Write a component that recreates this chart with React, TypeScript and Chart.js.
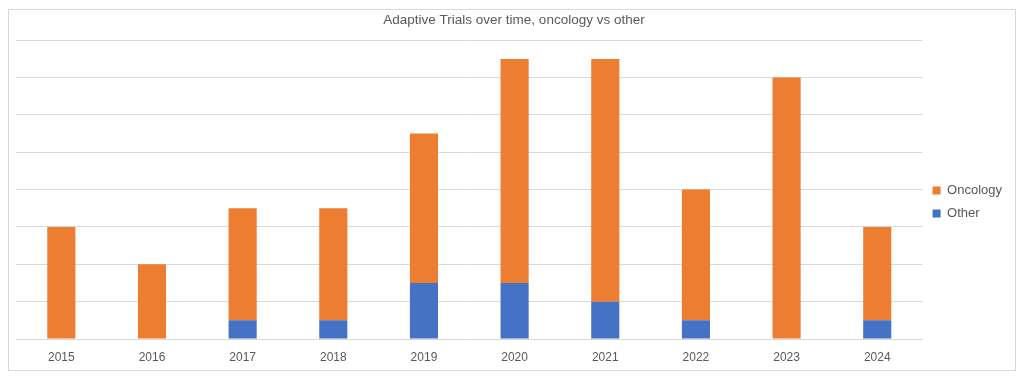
import React, { useEffect, useRef } from "react";
import { Chart, registerables } from "chart.js";

Chart.register(...registerables);

const years = ["2015", "2016", "2017", "2018", "2019", "2020", "2021", "2022", "2023", "2024"];
const otherValues = [0, 0, 1, 1, 3, 3, 2, 1, 0, 1];
const oncologyValues = [6, 4, 6, 6, 8, 12, 13, 7, 14, 5];
const titleText = "Adaptive Trials over time, oncology vs other";

const FONT = "Liberation Sans, Arial, sans-serif";
const GREY = "#595959";

export default function App() {
  const ref = useRef<HTMLCanvasElement | null>(null);

  useEffect(() => {
    if (!ref.current) return;
    const chart = new Chart(ref.current, {
      type: "bar",
      data: {
        labels: years,
        datasets: [
          {
            label: "Other",
            data: otherValues,
            backgroundColor: "#4472C4",
            categoryPercentage: 1,
            barPercentage: 0.31,
          },
          {
            label: "Oncology",
            data: oncologyValues,
            backgroundColor: "#ED7D31",
            categoryPercentage: 1,
            barPercentage: 0.31,
          },
        ],
      },
      options: {
        animation: false,
        responsive: false,
        maintainAspectRatio: false,
        layout: { padding: { left: 7, right: 3, top: 0, bottom: 0 } },
        plugins: {
          title: {
            display: true,
            text: titleText,
            color: GREY,
            font: { family: FONT, size: 13.5, weight: "normal" },
            padding: { top: 2, bottom: 12 },
          },
          legend: {
            position: "right",
            reverse: true,
            title: {
              display: true,
              text: "",
              font: { family: FONT, size: 10, lineHeight: 1.2 },
              padding: { top: 6, bottom: 6 },
            },
            labels: {
              color: GREY,
              font: { family: FONT, size: 13 },
              boxWidth: 8,
              boxHeight: 8,
              padding: 10,
            },
          },
          tooltip: { enabled: false },
        },
        scales: {
          x: {
            stacked: true,
            grid: { display: false, drawTicks: false },
            border: { display: false },
            ticks: {
              color: GREY,
              font: { family: FONT, size: 12 },
              padding: 11,
              maxRotation: 0,
            },
            afterFit: (scale: any) => {
              scale.height = 31;
            },
          },
          y: {
            stacked: true,
            min: 0,
            max: 16,
            grid: { color: "#d9d9d9", lineWidth: 1, drawTicks: false },
            border: { display: false },
            ticks: { display: false, stepSize: 2 },
          },
        },
      },
    });
    return () => chart.destroy();
  }, []);

  return (
    <div
      style={{
        marginTop: 1,
        width: 1006,
        height: 360,
        border: "1px solid #d9d9d9",
        background: "#fff",
      }}
    >
      <canvas ref={ref} width={1006} height={360} style={{ display: "block" }} />
    </div>
  );
}
